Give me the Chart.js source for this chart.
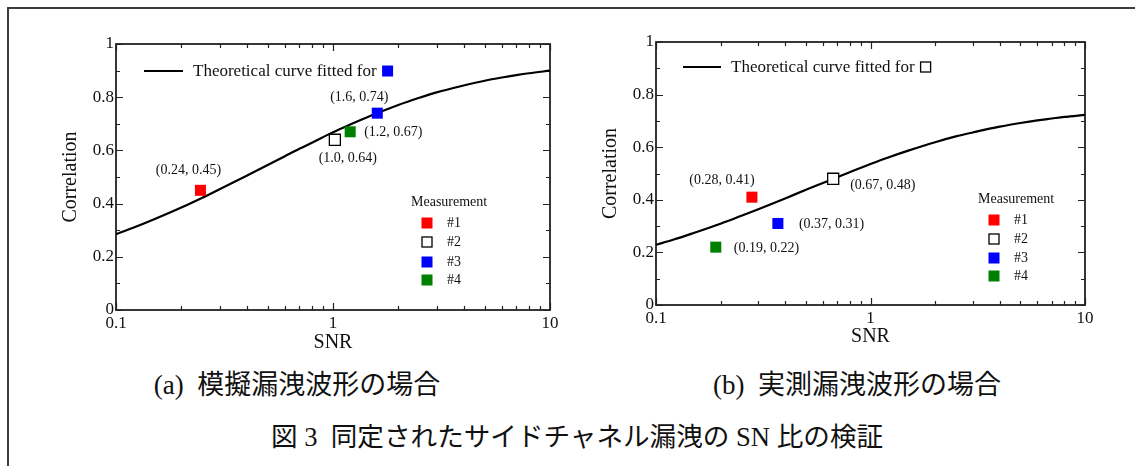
<!DOCTYPE html>
<html><head><meta charset="utf-8">
<script src="https://cdn.jsdelivr.net/npm/chart.js@4.4.0/dist/chart.umd.min.js"></script>
<style>
html,body{margin:0;padding:0;background:#fff;width:1135px;height:466px;overflow:hidden;position:relative}
#frame{position:absolute;left:7px;top:7px;width:1200px;height:500px;border-top:2px solid #3c3c3c;border-left:2px solid #3c3c3c;box-sizing:border-box}
canvas{position:absolute;top:0}
.cap{position:absolute;font-family:"Liberation Serif","Noto Sans CJK JP",serif;color:#111;white-space:pre;transform:translate(-50%,-50%);line-height:1}
</style></head><body>
<div id="frame"></div>
<canvas id="c1" width="570" height="360" style="left:0"></canvas>
<canvas id="c2" width="565" height="360" style="left:570px"></canvas>
<div class="cap" style="left:297px;top:385px;font-size:27px">(a)  模擬漏洩波形の場合</div>
<div class="cap" style="left:857px;top:385px;font-size:27px">(b)  実測漏洩波形の場合</div>
<div class="cap" style="left:577px;top:437px;font-size:26.6px">図 3  同定されたサイドチャネル漏洩の SN 比の検証</div>
<script>
// ---- tick values ----
const xMajorTicks = [0.1, 1, 10];
const xMinorTicks = [0.2, 0.3, 0.4, 0.5, 0.6, 0.7, 0.8, 0.9, 2, 3, 4, 5, 6, 7, 8, 9];
const yMajorTicks = [0, 0.2, 0.4, 0.6, 0.8, 1];
const yMinorTicks = [0.1, 0.3, 0.5, 0.7, 0.9];

// ---- (a) simulated leakage ----
const curveSnrA  = [0.1, 0.12, 0.15, 0.2, 0.25, 0.3, 0.4, 0.5, 0.6, 0.7, 0.8, 1, 1.2, 1.5, 2, 2.5, 3, 4, 5, 6, 7, 8, 10];
const curveCorrA = [0.285, 0.309, 0.341, 0.385, 0.422, 0.454, 0.505, 0.545, 0.578, 0.606, 0.629, 0.668, 0.697, 0.731, 0.771, 0.798, 0.818, 0.844, 0.862, 0.874, 0.883, 0.890, 0.900];
const measNames  = ['#1', '#2', '#3', '#4'];
const measSnrA   = [0.245, 1.02, 1.6, 1.2];
const measCorrA  = [0.45, 0.64, 0.74, 0.67];
const measLabelA = ['(0.24, 0.45)', '(1.0, 0.64)', '(1.6, 0.74)', '(1.2, 0.67)'];
const fittedIdxA = 2;

// ---- (b) measured leakage ----
const curveSnrB  = [0.1, 0.12, 0.15, 0.2, 0.25, 0.3, 0.4, 0.5, 0.6, 0.7, 0.8, 1, 1.2, 1.5, 2, 2.5, 3, 4, 5, 6, 7, 8, 10];
const curveCorrB = [0.229, 0.248, 0.274, 0.309, 0.339, 0.364, 0.405, 0.438, 0.464, 0.486, 0.505, 0.536, 0.560, 0.587, 0.619, 0.641, 0.656, 0.678, 0.692, 0.702, 0.709, 0.715, 0.723];
const measSnrB   = [0.28, 0.67, 0.37, 0.19];
const measCorrB  = [0.41, 0.48, 0.31, 0.22];
const measLabelB = ['(0.28, 0.41)', '(0.67, 0.48)', '(0.37, 0.31)', '(0.19, 0.22)'];
const fittedIdxB = 1;

const legendText = 'Theoretical curve fitted for';
const xTitle = 'SNR';
const yTitle = 'Correlation';

// ---- styles ----
const SERIF = '"Liberation Serif", "Times New Roman", serif';
const TXT = '#111';
const measFill   = ['#ff0000', '#ffffff', '#0000ff', '#008000'];
const measBorder = ['#ff0000', '#000000', '#0000ff', '#008000'];
const measBW     = [0, 1.3, 0, 0];

function drawSquare(ctx, cx, cy, i, size) {
  ctx.save();
  if (measBW[i] > 0) {
    const s = size - 1;
    ctx.fillStyle = measFill[i];
    ctx.fillRect(cx - s/2, cy - s/2, s, s);
    ctx.lineWidth = measBW[i];
    ctx.strokeStyle = measBorder[i];
    ctx.strokeRect(cx - s/2, cy - s/2, s, s);
  } else {
    ctx.fillStyle = measFill[i];
    ctx.fillRect(cx - size/2, cy - size/2, size, size);
  }
  ctx.restore();
}

const decor = {
  id: 'decor',
  beforeDatasetsDraw(chart, args, o) {
    const {ctx, chartArea: a, scales: {x, y}} = chart;
    ctx.save();
    ctx.strokeStyle = '#222';
    ctx.lineWidth = 1.2;
    ctx.beginPath();
    const xt = (vals, len) => vals.forEach(v => {
      const p = Math.round(x.getPixelForValue(v)) + 0.5;
      ctx.moveTo(p, a.bottom); ctx.lineTo(p, a.bottom - len);
      ctx.moveTo(p, a.top); ctx.lineTo(p, a.top + len);
    });
    const yt = (vals, len) => vals.forEach(v => {
      const p = Math.round(y.getPixelForValue(v)) + 0.5;
      ctx.moveTo(a.left, p); ctx.lineTo(a.left + len, p);
      ctx.moveTo(a.right, p); ctx.lineTo(a.right - len, p);
    });
    xt(xMajorTicks, 7); xt(xMinorTicks, 4);
    yt(yMajorTicks, 7); yt(yMinorTicks, 4);
    ctx.stroke();
    ctx.lineWidth = 1.8;
    ctx.strokeRect(a.left, a.top, a.right - a.left, a.bottom - a.top);
    ctx.restore();
  },
  afterDraw(chart, args, o) {
    const {ctx, chartArea: a, scales: {x, y}} = chart;
    ctx.save();
    ctx.fillStyle = TXT;
    // point annotations
    ctx.font = '14px ' + SERIF;
    ctx.textBaseline = 'middle';
    o.snr.forEach((v, i) => {
      const px = x.getPixelForValue(v) + o.labelDx[i];
      const py = y.getPixelForValue(o.corr[i]) + o.labelDy[i];
      ctx.textAlign = o.labelAlign[i];
      ctx.fillText(o.labels[i], px, py);
    });
    // curve legend
    const lx = a.left + o.lg.lineX, ly = a.top + o.lg.y;
    ctx.strokeStyle = '#000'; ctx.lineWidth = 2.2;
    ctx.beginPath(); ctx.moveTo(lx, ly); ctx.lineTo(lx + o.lg.lineLen, ly); ctx.stroke();
    ctx.font = '17px ' + SERIF;
    ctx.textAlign = 'left';
    const tx = a.left + o.lg.textX;
    ctx.fillText(legendText, tx, ly + 1);
    const tw = ctx.measureText(legendText).width;
    drawSquare(ctx, tx + tw + 11, ly, o.fitted, 11);
    // measurement legend
    ctx.fillStyle = TXT;
    ctx.font = '14px ' + SERIF;
    ctx.fillText('Measurement', a.left + o.ml.titleX, a.top + o.ml.titleY);
    measNames.forEach((n, i) => {
      const cy = a.top + o.ml.rows[i];
      drawSquare(ctx, a.left + o.ml.boxX, cy, i, 11);
      ctx.fillStyle = TXT;
      ctx.fillText(n, a.left + o.ml.textX, cy);
    });
    ctx.restore();
  }
};

function makeChart(id, curveSnr, curveCorr, snr, corr, labels, fitted, L) {
  const datasets = [{
    type: 'line',
    data: curveSnr.map((v, i) => ({x: v, y: curveCorr[i]})),
    borderColor: '#000', borderWidth: 2.2, pointRadius: 0,
    cubicInterpolationMode: 'monotone', order: 1
  }];
  snr.forEach((v, i) => datasets.push({
    type: 'scatter',
    data: [{x: v, y: corr[i]}],
    pointStyle: 'rect', pointRadius: 7.8,
    backgroundColor: measFill[i], borderColor: measBorder[i], borderWidth: measBW[i],
    order: 0
  }));
  return new Chart(document.getElementById(id), {
    type: 'scatter',
    data: {datasets},
    plugins: [decor],
    options: {
      responsive: false, animation: false,
      layout: {padding: {top: L.top, right: L.right, left: 0, bottom: 0}},
      plugins: {
        legend: {display: false}, tooltip: {enabled: false},
        decor: {snr, corr, labels, fitted,
          labelDx: L.labelDx, labelDy: L.labelDy, labelAlign: L.labelAlign,
          lg: L.lg, ml: L.ml}
      },
      scales: {
        x: {
          type: 'logarithmic', min: 0.1, max: 10,
          afterBuildTicks: s => { s.ticks = xMajorTicks.map(v => ({value: v})); },
          ticks: {callback: v => String(v), font: {family: SERIF, size: 17}, color: TXT, padding: 3, maxRotation: 0, autoSkip: false},
          grid: {display: false, drawTicks: false}, border: {display: false},
          title: {display: true, text: xTitle, font: {family: SERIF, size: 20}, color: TXT, padding: {top: 0, bottom: L.xTitlePad}},
          afterFit: s => { s.height = L.xH; s.paddingLeft = 0; s.paddingRight = 0; }
        },
        y: {
          type: 'linear', min: 0, max: 1,
          afterBuildTicks: s => { s.ticks = yMajorTicks.map(v => ({value: v})); },
          ticks: {callback: v => String(v), font: {family: SERIF, size: 17}, color: TXT, padding: 2},
          grid: {display: false, drawTicks: false}, border: {display: false},
          title: {display: true, text: yTitle, font: {family: SERIF, size: 20}, color: TXT, padding: {top: L.yTitlePad, bottom: 0}},
          afterFit: s => { s.width = L.yW; s.paddingTop = 0; s.paddingBottom = 0; }
        }
      }
    }
  });
}

makeChart('c1', curveSnrA, curveCorrA, measSnrA, measCorrA, measLabelA, fittedIdxA, {
  top: 44, right: 20, yW: 116, xH: 50, xTitlePad: 5, yTitlePad: 59,
  labelDx: [-12, 13, -18, 14], labelDy: [-20, 19, -16, 1],
  labelAlign: ['center', 'center', 'center', 'left'],
  lg: {lineX: 28, lineLen: 39, textX: 77, y: 27},
  ml: {titleX: 295, titleY: 158, boxX: 311, textX: 331, rows: [179, 198, 218, 236]}
});
makeChart('c2', curveSnrB, curveCorrB, measSnrB, measCorrB, measLabelB, fittedIdxB, {
  top: 42, right: 50, yW: 86, xH: 55, xTitlePad: 11, yTitlePad: 29,
  labelDx: [-30, 17, 21, 18], labelDy: [-17, 7, 1, 1],
  labelAlign: ['center', 'left', 'left', 'left'],
  lg: {lineX: 27, lineLen: 38, textX: 75, y: 25},
  ml: {titleX: 322, titleY: 157, boxX: 338, textX: 358, rows: [178, 197, 216, 234]}
});
</script>
</body></html>
